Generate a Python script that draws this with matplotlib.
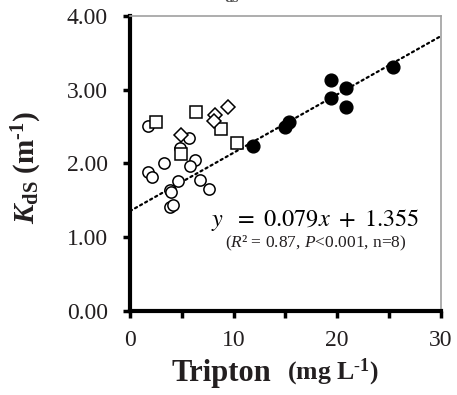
import matplotlib
matplotlib.use("Agg")
import matplotlib.pyplot as plt

plt.rcParams["font.family"] = "Liberation Serif"
plt.rcParams["mathtext.fontset"] = "custom"
plt.rcParams["mathtext.rm"] = "Liberation Serif"
plt.rcParams["mathtext.it"] = "Liberation Serif:italic"
plt.rcParams["mathtext.bf"] = "Liberation Serif:bold"
plt.rcParams["mathtext.bfit"] = "Liberation Serif:italic:bold"

# filled circles (used in the regression)
fit_x = [11.9, 15.0, 15.4, 19.4, 19.4, 20.9, 20.9, 25.4]
fit_y = [2.24, 2.49, 2.56, 3.13, 2.89, 3.02, 2.76, 3.31]

# open circles
circ_x = [1.7, 1.7, 2.1, 3.3, 5.7, 6.3, 5.8, 4.6, 3.9, 4.0, 6.8, 7.6, 3.9, 4.2, 4.8]
circ_y = [2.51, 1.88, 1.82, 2.00, 2.35, 2.05, 1.96, 1.76, 1.64, 1.61, 1.78, 1.65, 1.41, 1.44, 2.21]

# open squares
sq_x = [2.5, 6.4, 4.9, 8.8, 10.3]
sq_y = [2.56, 2.70, 2.13, 2.47, 2.28]

# open diamonds
dia_x = [4.9, 8.2, 8.1, 9.5]
dia_y = [2.39, 2.66, 2.57, 2.77]

slope, intercept = 0.079, 1.355
line_x = [0, 30]

fig = plt.figure(figsize=(4.57, 3.95), dpi=100)
ax = fig.add_axes([0.2845, 0.2127, 0.6795, 0.7468])

ax.plot(line_x, [slope * v + intercept for v in line_x], color="black",
        lw=1.6, linestyle=(0, (1, 1.6)), dash_capstyle="round", zorder=1)

ax.plot(circ_x, circ_y, "o", ms=8.1, mfc="white", mec="black", mew=1.1, zorder=2)
ax.plot(sq_x, sq_y, "s", ms=8.2, mfc="white", mec="black", mew=1.1, zorder=3)
ax.plot(dia_x, dia_y, "D", ms=7.4, mfc="white", mec="black", mew=1.1, zorder=3)
ax.plot(fit_x, fit_y, "o", ms=9.2, mfc="black", mec="black", zorder=4)

ax.set_xlim(0, 30)
ax.set_ylim(0, 4)
ax.set_xticks([0, 5, 10, 15, 20, 25, 30])
ax.set_xticklabels(["0", "", "10", "", "20", "", "30"])
ax.set_yticks([0, 1, 2, 3, 4])
ax.set_yticklabels(["0.00", "1.00", "2.00", "3.00", "4.00"])
ax.tick_params(direction="out", length=5, width=2.5, labelsize=17,
               labelcolor="#231f20")
ax.tick_params(axis="y", pad=11)
ax.tick_params(axis="x", pad=9)

for side in ("left", "bottom"):
    ax.spines[side].set_linewidth(3)
for side in ("top", "right"):
    ax.spines[side].set_color("#a0a0a0")
    ax.spines[side].set_linewidth(1.2)

ax.text(17.9, 1.23, r"$y\ \ =\ 0.079x\ +\ 1.355$", ha="center", va="center",
        fontsize=17.5, math_fontfamily="stix")
ax.text(17.9, 0.91, "($R$\u00b2 = 0.87, $P$<0.001, n=8)", ha="center", va="center",
        fontsize=12.5, color="#231f20")

fig.text(171 / 457, 1 - 373 / 395, "Tripton", fontsize=22, fontweight="bold",
         ha="left", va="center", color="#231f20")
fig.text(287 / 457, 1 - 372 / 395, r"(mg L$^{\mathbf{\text{-}1}}$)", fontsize=18.5,
         fontweight="bold", ha="left", va="center", color="#231f20")

fig.text(27 / 457, 1 - 168 / 395,
         r"$\mathbfit{K}_{\mathbf{dS}}$ (m$^{\mathbf{\text{-}1}}$)",
         fontsize=21, fontweight="bold", rotation=90, ha="center", va="center",
         color="#231f20")

# remnant of a clipped heading at the very top edge
fig.text(224 / 457, 1 - 2.5 / 395, "ds", fontsize=11, fontweight="bold",
         ha="left", va="baseline", color="#555555")

fig.savefig("out.png", dpi=100)
